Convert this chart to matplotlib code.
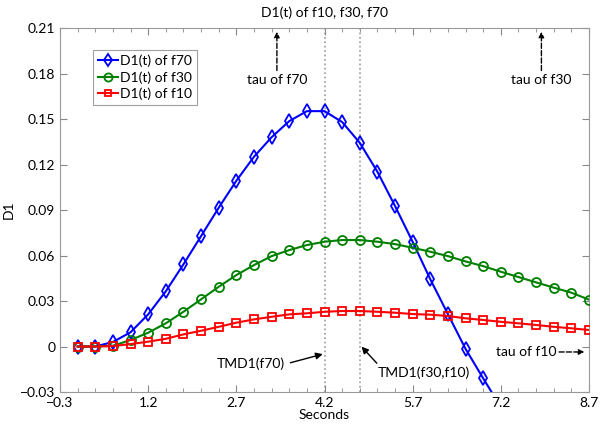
import numpy as np
import matplotlib
matplotlib.use("Agg")
import matplotlib.pyplot as plt

plt.rcParams['font.family'] = ['Lato', 'DejaVu Sans']

# sample times (seconds)
t = [0.0, 0.3, 0.6, 0.9, 1.2, 1.5, 1.8, 2.1, 2.4, 2.7, 3.0, 3.3, 3.6, 3.9, 4.2,
     4.5, 4.8, 5.1, 5.4, 5.7, 6.0, 6.3, 6.6, 6.9, 7.2, 7.5, 7.8, 8.1, 8.4, 8.7]

# D1(t) of f70 (runs off the bottom after ~7 s)
d1_f70 = [0.0, 0.0, 0.003, 0.0094, 0.0212, 0.0364, 0.0542, 0.0728, 0.0915, 0.1093,
          0.1251, 0.138, 0.1486, 0.1552, 0.1552, 0.148, 0.1343, 0.1152, 0.0926,
          0.069, 0.0443, 0.0213, -0.0016, -0.021, -0.040]
# D1(t) of f30
d1_f30 = [0.0, 0.0, 0.0005, 0.0043, 0.0091, 0.0153, 0.0229, 0.0311, 0.0394, 0.0471,
          0.0537, 0.0596, 0.0636, 0.0669, 0.0691, 0.0702, 0.0702, 0.0691, 0.0675,
          0.0651, 0.0625, 0.0596, 0.0561, 0.053, 0.0493, 0.0458, 0.0423, 0.0388,
          0.0355, 0.0309]
# D1(t) of f10
d1_f10 = [0.0, 0.0, 0.0003, 0.0016, 0.0032, 0.0051, 0.008, 0.0104, 0.013, 0.0157,
          0.0179, 0.0196, 0.0212, 0.0219, 0.0229, 0.0234, 0.0234, 0.0229, 0.0223,
          0.0214, 0.021, 0.0201, 0.0186, 0.0175, 0.0163, 0.0153, 0.0142, 0.013,
          0.012, 0.0109]

tmd_f70 = 4.2
tmd_f30_f10 = 4.8

xticks = [-0.3, 1.2, 2.7, 4.2, 5.7, 7.2, 8.7]
yticks = [-0.03, 0, 0.03, 0.06, 0.09, 0.12, 0.15, 0.18, 0.21]
ylabels = ['\u22120.03', '0', '0.03', '0.06', '0.09', '0.12', '0.15', '0.18', '0.21']
xlabels = ['\u22120.3', '1.2', '2.7', '4.2', '5.7', '7.2', '8.7']

fig = plt.figure(figsize=(6, 4.29), dpi=100)
ax = fig.add_axes([0.1, 0.0862, 0.8817, 0.8485])

ax.axvline(tmd_f70, color='#999999', ls=':', lw=1.2, zorder=1)
ax.axvline(tmd_f30_f10, color='#999999', ls=':', lw=1.2, zorder=1)

ax.plot(t[:len(d1_f70)], d1_f70, color='#0000ff', marker='d', ms=7, mfc='none',
        mew=1.3, lw=1.5, label='D1(t) of f70', zorder=3)
ax.plot(t, d1_f30, color='#008000', marker='o', ms=6.5, mfc='none',
        mew=1.3, lw=1.5, label='D1(t) of f30', zorder=3)
ax.plot(t, d1_f10, color='#ff0000', marker='s', ms=5.5, mfc='none',
        mew=1.3, lw=1.5, label='D1(t) of f10', zorder=3)

ax.set_xlim(-0.3, 8.7)
ax.set_ylim(-0.03, 0.21)
ax.set_xticks(xticks)
ax.set_xticklabels(xlabels)
ax.set_xticks(np.arange(-0.3, 8.71, 0.3), minor=True)
ax.set_yticks(yticks)
ax.set_yticklabels(ylabels)
ax.tick_params(which='both', direction='in', top=True, right=True,
               labelsize=10, color='#888888')
ax.tick_params(which='major', length=5)
ax.tick_params(which='minor', length=3)
for s in ax.spines.values():
    s.set_color('#999999')

ax.set_xlabel('Seconds', fontsize=10, labelpad=0)
ax.set_ylabel('D1', fontsize=10, labelpad=4)
ax.set_title('D1(t) of f10, f30, f70', fontsize=10, pad=8)

leg = ax.legend(loc='upper left', bbox_to_anchor=(0.05, 0.96), fontsize=10,
                frameon=True, fancybox=False, edgecolor='#888888',
                handlelength=1.4, handletextpad=0.2, borderpad=0.35,
                labelspacing=0.3, markerscale=0.9)
leg.get_frame().set_linewidth(0.8)

dashed = dict(arrowstyle='-|>', ls='--', color='black', lw=1.0,
              mutation_scale=8, shrinkA=0, shrinkB=0)
ax.annotate('', xy=(3.39, 0.2075), xytext=(3.39, 0.182), arrowprops=dashed)
ax.text(3.39, 0.1756, 'tau of f70', ha='center', va='center', fontsize=10)
ax.annotate('', xy=(7.89, 0.2075), xytext=(7.89, 0.182), arrowprops=dashed)
ax.text(7.89, 0.1756, 'tau of f30', ha='center', va='center', fontsize=10)
ax.annotate('', xy=(8.62, -0.0036), xytext=(8.19, -0.0036), arrowprops=dashed)
ax.text(8.15, -0.0036, 'tau of f10', ha='right', va='center', fontsize=10)

solid = dict(arrowstyle='-|>', color='black', lw=1.0, mutation_scale=10,
             shrinkA=0, shrinkB=0)
ax.annotate('', xy=(4.17, -0.005), xytext=(3.62, -0.0107), arrowprops=solid)
ax.text(3.52, -0.0115, 'TMD1(f70)', ha='right', va='center', fontsize=10)
ax.annotate('', xy=(4.83, -0.0001), xytext=(5.09, -0.011), arrowprops=solid)
ax.text(5.1, -0.0175, 'TMD1(f30,f10)', ha='left', va='center', fontsize=10)

fig.savefig('out.png', dpi=100)
